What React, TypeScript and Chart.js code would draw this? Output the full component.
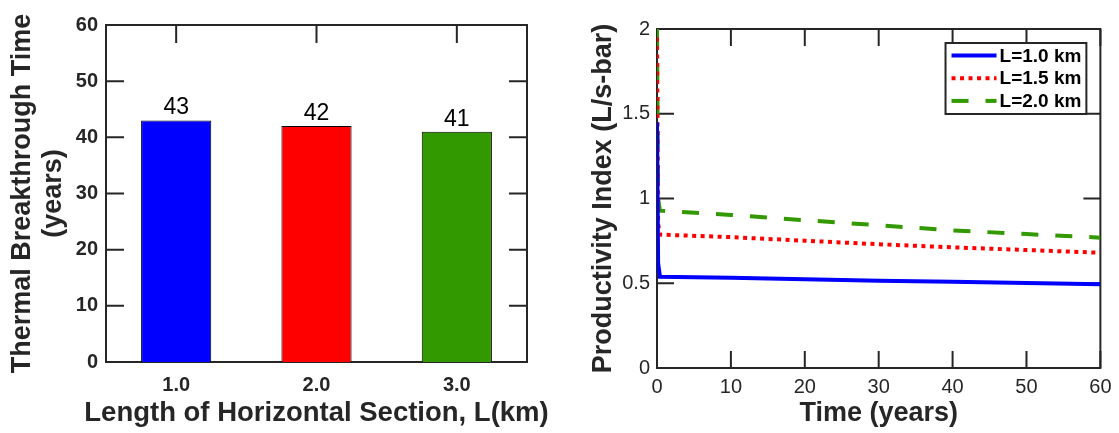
import React, { useEffect, useRef } from "react";
import { Chart, registerables } from "chart.js";

Chart.register(...registerables);

const FONT = '"Liberation Sans", Arial, Helvetica, sans-serif';
const AXIS = "#262626";

// Thermal breakthrough time for each horizontal section length
const lengthLabels = ["1.0", "2.0", "3.0"];
const breakthroughYears = [43, 42, 41];
const barColors = ["#0000ff", "#ff0000", "#339900"];

// Productivity index over time for each section length
const timeYears = [0, 0.15, 0.4, 10, 20, 30, 40, 50, 60];
const piL10 = [1.45, 0.62, 0.538, 0.532, 0.523, 0.515, 0.509, 0.502, 0.494];
const piL15 = [1.95, 0.85, 0.787, 0.772, 0.751, 0.73, 0.712, 0.696, 0.68];
const piL20 = [2.0, 1.0, 0.928, 0.903, 0.872, 0.842, 0.812, 0.79, 0.769];
const seriesLabels = ["L=1.0 km", "L=1.5 km", "L=2.0 km"];
const seriesColors = ["#0000ff", "#ff0000", "#339900"];
const seriesDashes = [[], [4, 4.5], [17, 17]];

const toPoints = (ys: number[]) => ys.map((y, i) => ({ x: timeYears[i], y }));

// Box around the plot area with inward ticks on all four sides
const framePlugin = {
  id: "frame",
  beforeDatasetsDraw(chart: any, _args: any, opts: any) {
    const { ctx, chartArea: a, scales } = chart;
    const len = opts.tickLength ?? 17;
    ctx.save();
    ctx.strokeStyle = AXIS;
    ctx.lineWidth = 2;
    ctx.beginPath();
    scales.x.ticks.forEach((_t: any, i: number) => {
      const px = scales.x.getPixelForTick(i);
      ctx.moveTo(px, a.bottom);
      ctx.lineTo(px, a.bottom - len);
      ctx.moveTo(px, a.top);
      ctx.lineTo(px, a.top + len);
    });
    scales.y.ticks.forEach((_t: any, i: number) => {
      const py = scales.y.getPixelForTick(i);
      ctx.moveTo(a.left, py);
      ctx.lineTo(a.left + len, py);
      ctx.moveTo(a.right, py);
      ctx.lineTo(a.right - len, py);
    });
    ctx.stroke();
    ctx.strokeRect(a.left, a.top, a.right - a.left, a.bottom - a.top);
    ctx.restore();
  },
};

// Axis titles, drawn at full width (not squeezed to the axis length)
const axisTitlePlugin = {
  id: "axisTitles",
  afterDraw(chart: any, _args: any, o: any) {
    const { ctx, chartArea: a, height } = chart;
    ctx.save();
    ctx.fillStyle = AXIS;
    ctx.textAlign = "center";
    ctx.textBaseline = "middle";
    ctx.font = `bold ${o.xSize}px ${FONT}`;
    ctx.fillText(o.xText, (a.left + a.right) / 2, height - o.xBottom);
    ctx.font = `bold ${o.ySize}px ${FONT}`;
    const cy = (a.top + a.bottom) / 2;
    o.yLines.forEach((t: string, i: number) => {
      ctx.save();
      ctx.translate(o.yLeft + i * o.yGap, cy);
      ctx.rotate(-Math.PI / 2);
      ctx.fillText(t, 0, 0);
      ctx.restore();
    });
    ctx.restore();
  },
};

// Value printed above each bar
const barValuePlugin = {
  id: "barValues",
  afterDatasetsDraw(chart: any) {
    const { ctx } = chart;
    const meta = chart.getDatasetMeta(0);
    const values = chart.data.datasets[0].data;
    ctx.save();
    ctx.font = `23px ${FONT}`;
    ctx.fillStyle = "#000";
    ctx.textAlign = "center";
    ctx.textBaseline = "alphabetic";
    meta.data.forEach((bar: any, i: number) => {
      ctx.fillText(String(values[i]), bar.x, bar.y - 6);
    });
    ctx.restore();
  },
};

// Boxed legend in the upper right corner of the plot area
const boxLegendPlugin = {
  id: "boxLegend",
  afterDatasetsDraw(chart: any) {
    const { ctx, chartArea: a } = chart;
    const sets = chart.data.datasets;
    ctx.save();
    ctx.font = `bold 19px ${FONT}`;
    const textW = Math.max(...sets.map((d: any) => ctx.measureText(d.label).width));
    const sample = 45;
    const w = 6 + sample + 3 + textW + 5;
    const h = 71;
    const right = a.right - 14;
    const top = a.top + 14;
    const left = right - w;
    ctx.fillStyle = "#fff";
    ctx.fillRect(left, top, w, h);
    ctx.strokeStyle = AXIS;
    ctx.lineWidth = 2;
    ctx.strokeRect(left, top, w, h);
    sets.forEach((d: any, i: number) => {
      const y = top + 12.5 + i * 22.7;
      ctx.beginPath();
      ctx.setLineDash(d.borderDash || []);
      ctx.strokeStyle = d.borderColor;
      ctx.lineWidth = d.borderWidth;
      ctx.moveTo(left + 6, y);
      ctx.lineTo(left + 6 + sample, y);
      ctx.stroke();
      ctx.setLineDash([]);
      ctx.fillStyle = "#000";
      ctx.textAlign = "left";
      ctx.textBaseline = "middle";
      ctx.fillText(d.label, left + 6 + sample + 3, y + 1);
    });
    ctx.restore();
  },
};

export default function App() {
  const barRef = useRef<HTMLCanvasElement>(null);
  const lineRef = useRef<HTMLCanvasElement>(null);

  useEffect(() => {
    const barChart = new Chart(barRef.current as HTMLCanvasElement, {
      type: "bar",
      data: {
        labels: lengthLabels,
        datasets: [
          {
            data: breakthroughYears,
            backgroundColor: barColors,
            borderColor: "#000",
            borderWidth: 1,
            barPercentage: 0.5,
            categoryPercentage: 1,
          },
        ],
      },
      options: {
        responsive: false,
        animation: false,
        layout: { padding: { top: 25, right: 33, left: 0, bottom: 0 } },
        plugins: {
          legend: { display: false },
          tooltip: { enabled: false },
          frame: { tickLength: 18 },
          axisTitles: {
            xText: "Length of Horizontal Section, L(km)",
            xSize: 27.5,
            xBottom: 19.6,
            yLines: ["Thermal Breakthrough Time", "(years)"],
            ySize: 27,
            yLeft: 22.5,
            yGap: 31,
          },
        } as any,
        scales: {
          x: {
            grid: { display: false, drawTicks: false },
            border: { display: false },
            ticks: { color: AXIS, padding: 11, font: { family: FONT, size: 20, weight: "bold" } },
            afterFit: (s: any) => {
              s.height = 71;
            },
          },
          y: {
            min: 0,
            max: 60,
            grid: { display: false, drawTicks: false },
            border: { display: false },
            ticks: { stepSize: 10, color: AXIS, padding: 8, font: { family: FONT, size: 20, weight: "bold" } },
            afterFit: (s: any) => {
              s.width = 106;
            },
          },
        },
      } as any,
      plugins: [framePlugin, barValuePlugin, axisTitlePlugin],
    });

    const series = [piL10, piL15, piL20];
    const lineChart = new Chart(lineRef.current as HTMLCanvasElement, {
      type: "line",
      data: {
        datasets: series.map((ys, i) => ({
          label: seriesLabels[i],
          data: toPoints(ys),
          borderColor: seriesColors[i],
          backgroundColor: seriesColors[i],
          borderWidth: 4,
          borderDash: seriesDashes[i],
          pointRadius: 0,
          tension: 0,
          fill: false,
        })),
      },
      options: {
        responsive: false,
        animation: false,
        layout: { padding: { top: 29, right: 16, left: 0, bottom: 0 } },
        plugins: {
          legend: { display: false },
          tooltip: { enabled: false },
          frame: { tickLength: 17 },
          axisTitles: {
            xText: "Time (years)",
            xSize: 27,
            xBottom: 19.6,
            yLines: ["Productivity Index (L/s-bar)"],
            ySize: 27,
            yLeft: 43.5,
            yGap: 0,
          },
        } as any,
        scales: {
          x: {
            type: "linear",
            min: 0,
            max: 60,
            grid: { display: false, drawTicks: false },
            border: { display: false },
            ticks: { stepSize: 10, color: AXIS, padding: 7.5, font: { family: FONT, size: 20 } },
            afterFit: (s: any) => {
              s.height = 65;
            },
          },
          y: {
            min: 0,
            max: 2,
            grid: { display: false, drawTicks: false },
            border: { display: false },
            ticks: {
              stepSize: 0.5,
              color: AXIS,
              padding: 7,
              font: { family: FONT, size: 20 },
              callback: (v: any) => String(Number(v)),
            },
            afterFit: (s: any) => {
              s.width = 97;
            },
          },
        },
      } as any,
      plugins: [framePlugin, boxLegendPlugin, axisTitlePlugin],
    });

    return () => {
      barChart.destroy();
      lineChart.destroy();
    };
  }, []);

  return (
    <div style={{ position: "fixed", left: 0, top: 0, width: 1119, height: 433, background: "#fff" }}>
      <canvas ref={barRef} width={560} height={433} style={{ position: "absolute", left: 0, top: 0 }} />
      <canvas ref={lineRef} width={559} height={433} style={{ position: "absolute", left: 560, top: 0 }} />
    </div>
  );
}
